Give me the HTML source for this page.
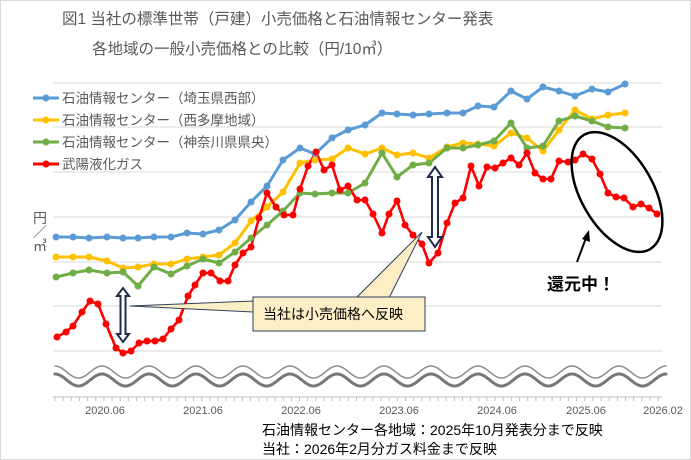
<!DOCTYPE html>
<html><head><meta charset="utf-8"><style>
html,body{margin:0;padding:0;background:#fff;overflow:hidden}
svg{display:block;font-family:"Liberation Sans","Noto Sans CJK JP",sans-serif}
</style></head><body>
<svg width="691" height="460" viewBox="0 0 691 460" xmlns="http://www.w3.org/2000/svg">
<rect x="0.5" y="0.5" width="690" height="459" fill="#fff" stroke="#d9d9d9"/>
<text x="62" y="24" font-size="15.5" fill="#595959">図1 当社の標準世帯（戸建）小売価格と石油情報センター発表</text>
<text x="92" y="54" font-size="15.5" fill="#595959">各地域の一般小売価格との比較（円/10㎥）</text>
<g stroke="#d9d9d9" stroke-width="1">
<line x1="53" x2="662" y1="83" y2="83"/><line x1="53" x2="662" y1="127" y2="127"/><line x1="53" x2="662" y1="172" y2="172"/><line x1="53" x2="662" y1="217" y2="217"/><line x1="53" x2="662" y1="262" y2="262"/><line x1="53" x2="662" y1="306" y2="306"/><line x1="53" x2="662" y1="351" y2="351"/>
</g>
<g font-size="14" fill="#595959">
<text x="33" y="223">円</text><text x="33" y="237">／</text><text x="33" y="251">㎥</text>
</g>
<g fill="none" stroke-linecap="round">
<path id="w1" stroke="#8c8c8c" stroke-width="1.5"/>
<path id="w2" stroke="#777" stroke-width="3"/>
</g>
<line x1="53" x2="662" y1="397" y2="397" stroke="#bfbfbf"/>
<g stroke="#bfbfbf" id="ticks"></g>
<g font-size="11" fill="#595959" text-anchor="middle">
<text x="105" y="414">2020.06</text><text x="203" y="414">2021.06</text><text x="301" y="414">2022.06</text><text x="399" y="414">2023.06</text><text x="497" y="414">2024.06</text><text x="586" y="414">2025.06</text><text x="663" y="414">2026.02</text>
</g>
<g font-size="14" fill="#000">
<text x="262" y="435">石油情報センター各地域：2025年10月発表分まで反映</text>
<text x="262" y="454">当社：2026年2月分ガス料金まで反映</text>
</g>
<g fill="none" stroke-width="3" stroke-linejoin="round">
<polyline id="blue" stroke="#5b9bd5" points="56,237 73,237 89,238 107,237 123,238 138,238 154,237 171,237 187,233 203,234 219,230 235,220 251,202 267,186 283,160 300,148 315,154 332,138 348,130 365,125 382,113 397,114 413,115 429,114 447,113 463,113 478,106 494,107 511,91 527,99 543,87 559,91 575,96 592,89 608,92 625,84"/>
<polyline id="yellow" stroke="#ffc000" points="56,257 73,257 89,257 107,261 123,268 138,267 154,264 171,264 187,259 203,257 219,255 235,243 251,221 267,207 283,192 300,163 315,160 332,159 348,148 365,154 382,148 397,155 413,153 429,158 447,147 463,143 478,144 494,146 511,133 527,138 543,151 559,130 575,110 592,119 608,115 625,113"/>
<polyline id="green" stroke="#70ad47" points="56,277 73,273 89,270 107,273 123,272 138,286 154,267 171,274 187,266 203,259 219,263 235,252 251,238 267,225 283,211 300,193 315,194 332,193 348,193 365,183 382,153 397,177 413,165 429,163 447,148 463,148 478,145 494,141 511,123 527,148 543,146 559,121 575,116 592,121 608,127 625,128"/>
<polyline id="red" stroke="#ff0000" stroke-width="2.6" points="57,337 66,332 73,326 82,312 90,301 98,304 106,324 116,348 123,353 131,351 139,343 147,341 155,341 163,339 171,329 179,320 188,296 195,285 203,273 211,273 220,281 228,281 235,265 243,253 251,247 259,218 267,193 276,207 284,215 293,215 300,189 308,166 316,152 324,170 332,165 340,190 348,186 357,200 365,200 373,214 382,233 389,214 397,201 405,225 413,235 422,244 429,263 438,253 447,223 455,203 463,198 471,166 479,186 487,167 495,168 503,163 511,158 519,165 527,153 535,173 543,179 551,179 559,161 568,162 575,160 583,154 592,159 600,174 608,193 616,197 624,198 633,207 641,204 649,208 657,214"/>
</g>
<g id="markers"></g>
<g stroke-width="3">
<line x1="33" x2="59" y1="98" y2="98" stroke="#5b9bd5"/><circle cx="46" cy="98" r="3.5" fill="#5b9bd5"/>
<line x1="33" x2="59" y1="120" y2="120" stroke="#ffc000"/><circle cx="46" cy="120" r="3.5" fill="#ffc000"/>
<line x1="33" x2="59" y1="142" y2="142" stroke="#70ad47"/><circle cx="46" cy="142" r="3.5" fill="#70ad47"/>
<line x1="33" x2="59" y1="164" y2="164" stroke="#ff0000"/><circle cx="46" cy="164" r="3.5" fill="#ff0000"/>
</g>
<g font-size="13.5" fill="#595959">
<text x="62" y="103">石油情報センター（埼玉県西部）</text>
<text x="62" y="125">石油情報センター（西多摩地域）</text>
<text x="62" y="147">石油情報センター（神奈川県県央）</text>
<text x="62" y="169">武陽液化ガス</text>
</g>
<path d="M130 306 L253 301 L253 312 Z" fill="#fdeec6" stroke="#2f3f5c" stroke-width="1"/>
<path d="M356 298 L422 232 L389 298 Z" fill="#fdeec6" stroke="#2f3f5c" stroke-width="1"/>
<rect x="253" y="297" width="172" height="34" fill="#fdeec6" stroke="#2f3f5c" stroke-width="1"/>
<rect x="254" y="297.5" width="170" height="2" fill="#fdeec6"/>
<text x="263" y="319" font-size="14" fill="#000">当社は小売価格へ反映</text>
<g fill="#fff" stroke="#1f2d4d" stroke-width="2" stroke-linejoin="miter">
<path d="M123 288 L129 296 L125.5 296 L125.5 334 L129 334 L123 342 L117 334 L120.5 334 L120.5 296 L117 296 Z"/>
<path d="M435 167 L442 177 L438 177 L438 237 L442 237 L435 247 L428 237 L432 237 L432 177 L428 177 Z"/>
</g>
<ellipse cx="617" cy="192" rx="36" ry="66" transform="rotate(-30 617 192)" fill="none" stroke="#000" stroke-width="2.5"/>
<line x1="577" y1="262" x2="586" y2="238" stroke="#000" stroke-width="2"/>
<path d="M589 230 L590 242 L582 239 Z" fill="#000"/>
<text x="547" y="290" font-size="17" font-weight="bold" fill="#000">還元中！</text>
<script>
var ns="http://www.w3.org/2000/svg";
var cols={blue:"#5b9bd5",yellow:"#ffc000",green:"#70ad47",red:"#ff0000"};
var mk=document.getElementById("markers");
for(var id in cols){var pts=document.getElementById(id).getAttribute("points").trim().split(/\s+/);
pts.forEach(function(p){var a=p.split(",");var c=document.createElementNS(ns,"circle");c.setAttribute("cx",a[0]);c.setAttribute("cy",a[1]);c.setAttribute("r","3.5");c.setAttribute("fill",cols[id]);mk.appendChild(c);});}
var t=document.getElementById("ticks");
for(var x=55;x<=662;x+=8.15){var l=document.createElementNS(ns,"line");l.setAttribute("x1",x);l.setAttribute("x2",x);l.setAttribute("y1",397);l.setAttribute("y2",401);t.appendChild(l);}
function wave(cy){var d="";for(var x=55;x<=666;x+=1){var y=cy-6*Math.cos((x-55)/47*2*Math.PI);d+=(x==55?"M":"L")+x+" "+y.toFixed(2)+" ";}return d;}
document.getElementById("w1").setAttribute("d",wave(372));
document.getElementById("w2").setAttribute("d",wave(380));
</script>
</svg>
</body></html>
